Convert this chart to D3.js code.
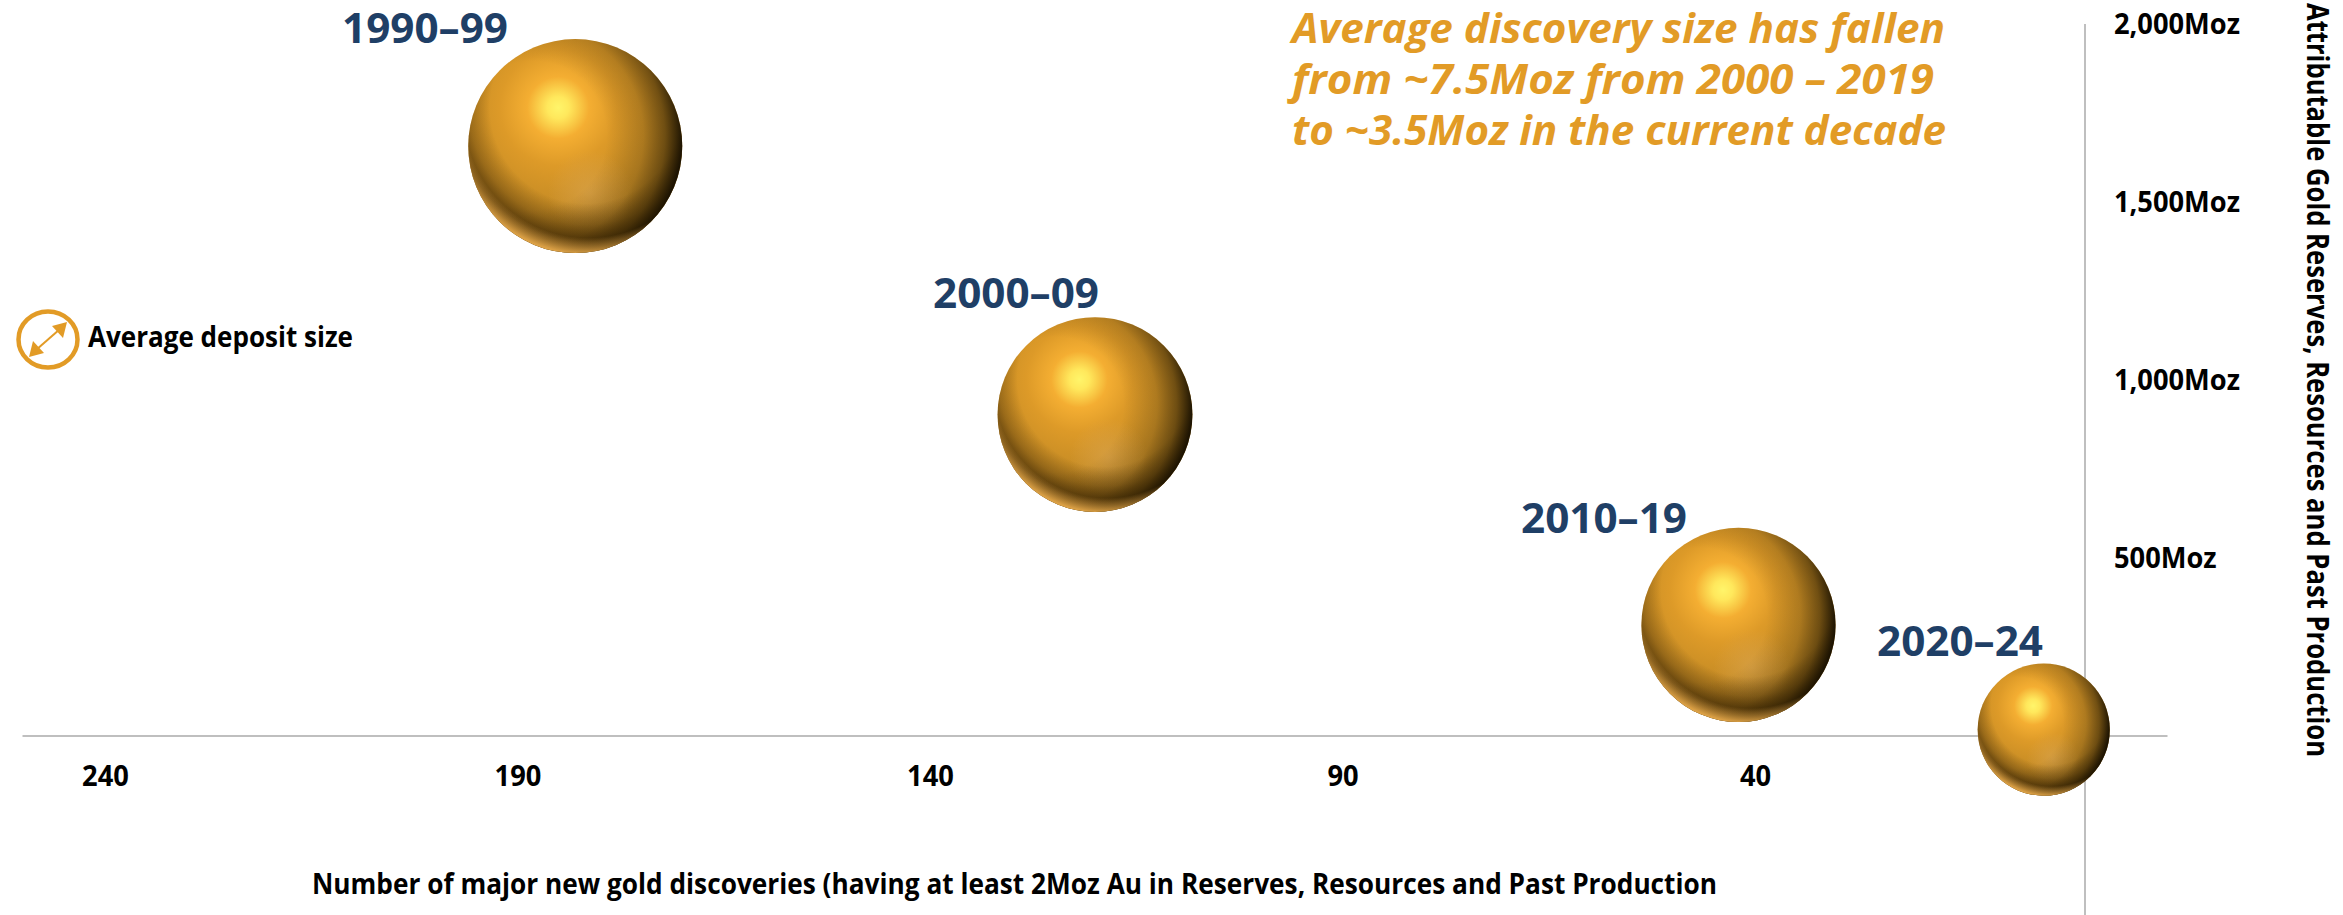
<!DOCTYPE html>
<html><head><meta charset="utf-8">
<script src="https://cdn.jsdelivr.net/npm/d3@7/dist/d3.min.js"></script>
<style>html,body{margin:0;padding:0;background:#fff;overflow:hidden}svg{display:block}</style>
</head><body><div id="chart"></div>
<script>
const periods = ["1990–99","2000–09","2010–19","2020–24"];
const discoveries = [183,120,42,5];
const attributableMoz = [1657,903,312,18];
const avgDepositMoz = [9.05,7.5,7.45,3.45];
const xTicks = [240,190,140,90,40];
const yTicks = [500,1000,1500,2000];
const annotationLines = ["Average discovery size has fallen","from ~7.5Moz from 2000 – 2019","to ~3.5Moz in the current decade"];
const xTitle = "Number of major new gold discoveries (having at least 2Moz Au in Reserves, Resources and Past Production";
const yTitle = "Attributable Gold Reserves, Resources and Past Production";
const legendLabel = "Average deposit size";

const W=2343,H=915;
const FONT="'Open Sans',sans-serif";
const svg=d3.select("#chart").append("svg").attr("width",W).attr("height",H).attr("viewBox",`0 0 ${W} ${H}`);
const x=d3.scaleLinear().domain([240,0]).range([105,2085]);
const y=d3.scaleLinear().domain([0,2000]).range([736,24]);
const r=d3.scaleSqrt().domain([0,9.05]).range([0,107]);

const defs=svg.append("defs");
function grad(id,cx,cy,rad,stops){
  const g=defs.append("radialGradient").attr("id",id).attr("cx",cx).attr("cy",cy).attr("r",rad);
  stops.forEach(s=>g.append("stop").attr("offset",s[0]).attr("stop-color",s[1]).attr("stop-opacity",s[2]===undefined?1:s[2]));
}
grad("base",.42,.32,.85,[[0,"#fff56a"],[.06,"#ffe85c"],[.17,"#f4ae32"],[.32,"#dd9a28"],[.6,"#c08824"],[.85,"#a5761e"],[1,"#8a6016"]]);
grad("glow",.57,.72,.2,[[0,"#dba54e",.65],[1,"#dba54e",0]]);
grad("band",.55,.32,.7,[[0,"#4a3006",0],[.64,"#4a3006",0],[.78,"#4a3006",.38],[.88,"#4a3006",.8],[1,"#4a3006",.8]]);
grad("shade",.30,.45,.72,[[0,"#1e1400",0],[.48,"#1e1400",0],[.72,"#1e1400",.18],[.86,"#1e1400",.5],[.97,"#140d00",.92],[1,"#140d00",.98]]);
grad("rim",.56,.35,.68,[[0,"#f0b04e",0],[.85,"#f0b04e",0],[.91,"#f0b04e",.45],[.96,"#f0b04e",.85],[1,"#f4b858",1]]);

const axisColor="#bfbfbf";
svg.append("line").attr("x1",x(250)).attr("x2",x(-10)).attr("y1",y(0)).attr("y2",y(0)).attr("stroke",axisColor).attr("stroke-width",2);
svg.append("line").attr("x1",x(0)).attr("x2",x(0)).attr("y1",y(2000)).attr("y2",H).attr("stroke",axisColor).attr("stroke-width",2);

function squeeze(sel,f){sel.each(function(){this.setAttribute("textLength",this.getComputedTextLength()*f);this.setAttribute("lengthAdjust","spacingAndGlyphs");});}
const gx=svg.append("g").attr("transform",`translate(0,${y(0)})`)
  .call(d3.axisBottom(x).tickValues(xTicks).tickSize(0).tickPadding(29).tickFormat(d3.format("d")));
gx.select(".domain").remove();
gx.selectAll("text").attr("font-family",FONT).attr("font-weight",700).attr("font-size",29).attr("fill","#000").call(squeeze,.94);
const gy=svg.append("g").attr("transform",`translate(${x(0)+29},0)`)
  .call(d3.axisRight(y).tickValues(yTicks).tickSize(0).tickPadding(0).tickFormat(d=>d3.format(",")(d)+"Moz"));
gy.select(".domain").remove();
gy.selectAll("text").attr("font-family",FONT).attr("font-weight",700).attr("font-size",29).attr("fill","#000").call(squeeze,.94);

const data=periods.map((p,i)=>({p,n:discoveries[i],m:attributableMoz[i],s:avgDepositMoz[i]}));
const balls=svg.append("g").selectAll("g").data(data).join("g")
  .attr("transform",d=>`translate(${x(d.n)},${y(d.m)})`);
["base","glow","band","shade","rim"].forEach(id=>balls.append("circle").attr("r",d=>r(d.s)).attr("fill",`url(#${id})`));

const labelEnd=[508,1099,1687,2043], labelBase=[43,308,533,656];
svg.append("g").selectAll("text").data(data).join("text")
  .attr("x",(d,i)=>labelEnd[i]).attr("y",(d,i)=>labelBase[i]).attr("text-anchor","end")
  .attr("font-family",FONT).attr("font-weight",700).attr("font-size",41).attr("fill","#1f3f66")
  .attr("textLength",166).attr("lengthAdjust","spacingAndGlyphs").text(d=>d.p);

const annW=[653,642,654];
svg.append("g").selectAll("text").data(annotationLines).join("text")
  .attr("x",1292).attr("y",(d,i)=>43+i*51)
  .attr("font-family",FONT).attr("font-weight",700).attr("font-style","italic").attr("font-size",41).attr("fill","#e29b26")
  .attr("textLength",(d,i)=>annW[i]).attr("lengthAdjust","spacingAndGlyphs").text(d=>d);

svg.append("text").attr("x",312).attr("y",894).attr("font-family",FONT).attr("font-weight",700).attr("font-size",29)
  .attr("textLength",1405).attr("lengthAdjust","spacingAndGlyphs").text(xTitle);
svg.append("text").attr("transform","translate(2307,757) rotate(90)").attr("text-anchor","end")
  .attr("font-family",FONT).attr("font-weight",700).attr("font-size",30)
  .attr("textLength",754).attr("lengthAdjust","spacingAndGlyphs").text(yTitle);

const lg=svg.append("g");
const gold="#e29b26";
lg.append("ellipse").attr("cx",48).attr("cy",339.5).attr("rx",29.5).attr("ry",28).attr("fill","none").attr("stroke",gold).attr("stroke-width",4.5);
lg.append("line").attr("x1",36).attr("y1",350).attr("x2",60).attr("y2",329).attr("stroke",gold).attr("stroke-width",2);
lg.append("path").attr("d","M67 322 L52 326 L63 338 Z").attr("fill",gold);
lg.append("path").attr("d","M29 357 L44 353 L33 341 Z").attr("fill",gold);
lg.append("text").attr("x",88).attr("y",347).attr("font-family",FONT).attr("font-weight",700).attr("font-size",29)
  .attr("textLength",265).attr("lengthAdjust","spacingAndGlyphs").text(legendLabel);
</script></body></html>
